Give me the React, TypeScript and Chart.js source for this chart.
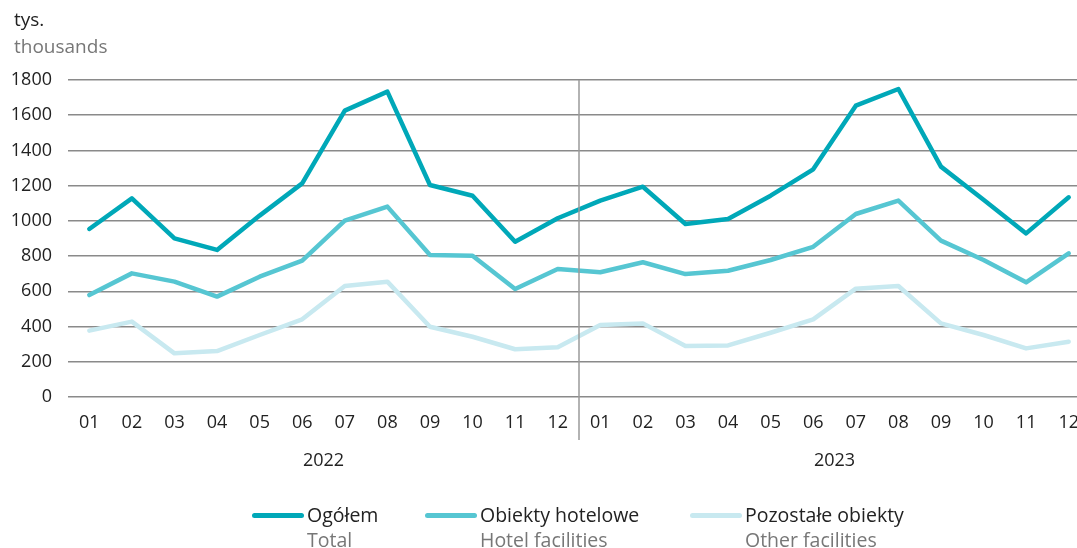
import React, { useEffect, useRef } from "react";
import { Chart, registerables } from "chart.js";

Chart.register(...registerables);

const months = ["01", "02", "03", "04", "05", "06", "07", "08", "09", "10", "11", "12"];
const categories = [...months, ...months];
const years = ["2022", "2023"];
const yTicks = [0, 200, 400, 600, 800, 1000, 1200, 1400, 1600, 1800];

const totalValues = [954, 1128, 901, 835, 1030, 1213, 1626, 1734, 1204, 1143, 882, 1015,
  1115, 1194, 982, 1011, 1143, 1293, 1654, 1749, 1308, 1120, 929, 1134];
const hotelValues = [579, 702, 655, 570, 683, 774, 1001, 1081, 806, 802, 613, 727,
  708, 765, 698, 717, 778, 853, 1039, 1115, 888, 778, 651, 816];
const otherValues = [377, 428, 248, 261, 352, 441, 630, 655, 399, 342, 271, 282,
  409, 418, 290, 293, 365, 441, 615, 630, 418, 352, 276, 314];

const seriesNames = ["Ogółem", "Obiekty hotelowe", "Pozostałe obiekty"];
const seriesNamesEn = ["Total", "Hotel facilities", "Other facilities"];
const seriesColors = ["#00a8b8", "#56c6d2", "#c8e9f0"];

const FONT = "'Open Sans', 'Noto Sans', sans-serif";

const overlayPlugin = {
  id: "overlay",
  afterDraw(chart: any) {
    const { ctx, chartArea, scales } = chart;
    const x = scales.x;
    ctx.save();
    const dx = (x.getPixelForValue(11) + x.getPixelForValue(12)) / 2;
    ctx.strokeStyle = "#9a9a9a";
    ctx.lineWidth = 1.5;
    ctx.beginPath();
    ctx.moveTo(dx, chartArea.top);
    ctx.lineTo(dx, chartArea.bottom + 43);
    ctx.stroke();
    ctx.fillStyle = "#222";
    ctx.font = `18px ${FONT}`;
    ctx.textAlign = "center";
    ctx.textBaseline = "middle";
    years.forEach((yr, i) => {
      const cx = (x.getPixelForValue(i * 12 + 5) + x.getPixelForValue(i * 12 + 6)) / 2;
      ctx.fillText(yr, cx, chartArea.bottom + 64);
    });
    ctx.restore();
  },
};

export default function App() {
  const canvasRef = useRef<HTMLCanvasElement>(null);

  useEffect(() => {
    const ctx = canvasRef.current!.getContext("2d")!;
    const datasets = [totalValues, hotelValues, otherValues].map((vals, i) => ({
      label: seriesNames[i],
      data: vals,
      borderColor: seriesColors[i],
      backgroundColor: seriesColors[i],
      borderWidth: 4.5,
      pointRadius: 0,
      tension: 0,
      borderJoinStyle: "round" as const,
      borderCapStyle: "round" as const,
      order: i,
    }));
    const chart = new Chart(ctx, {
      type: "line",
      data: { labels: categories, datasets },
      options: {
        animation: false,
        responsive: false,
        maintainAspectRatio: false,
        layout: { padding: { left: 0, right: 10, top: 80, bottom: 0 } },
        plugins: { legend: { display: false }, tooltip: { enabled: false } },
        scales: {
          x: {
            offset: true,
            grid: { display: false, drawTicks: false },
            border: { display: false },
            ticks: {
              color: "#222",
              font: { family: FONT, size: 18 },
              padding: 15,
              maxRotation: 0,
              autoSkip: false,
            },
            afterFit: (s: any) => { s.height = 151; },
          },
          y: {
            min: 0,
            max: 1800,
            afterBuildTicks: (s: any) => { s.ticks = yTicks.map((v) => ({ value: v })); },
            grid: { color: "#8a8a8a", lineWidth: 1.5, drawTicks: false },
            border: { display: false },
            ticks: {
              color: "#222",
              font: { family: FONT, size: 18 },
              padding: 16,
              callback: (v: any) => String(v),
            },
            afterFit: (s: any) => { s.width = 68; },
          },
        },
      },
      plugins: [overlayPlugin],
    });
    return () => chart.destroy();
  }, []);

  const legendLeft = [252, 425, 690];

  return (
    <div style={{ position: "fixed", left: 0, top: 0, width: 1077, height: 548, overflow: "hidden", background: "#fff", fontFamily: FONT }}>
      <canvas ref={canvasRef} width={1100} height={548} style={{ position: "absolute", left: 0, top: 0, width: 1100, height: 548 }} />
      <div style={{ position: "absolute", left: 14, top: 6, fontSize: 19, color: "#222", lineHeight: "26px" }}>tys.</div>
      <div style={{ position: "absolute", left: 14, top: 33, fontSize: 19, color: "#777", lineHeight: "26px" }}>thousands</div>
      {seriesNames.map((name, i) => (
        <div key={name} style={{ position: "absolute", left: legendLeft[i], top: 502, display: "flex", alignItems: "flex-start" }}>
          <div style={{ width: 52, height: 5, borderRadius: 3, background: seriesColors[i], marginTop: 11, marginRight: 3 }} />
          <div style={{ fontSize: 19.5, lineHeight: "25px" }}>
            <div style={{ color: "#222" }}>{name}</div>
            <div style={{ color: "#777" }}>{seriesNamesEn[i]}</div>
          </div>
        </div>
      ))}
    </div>
  );
}
